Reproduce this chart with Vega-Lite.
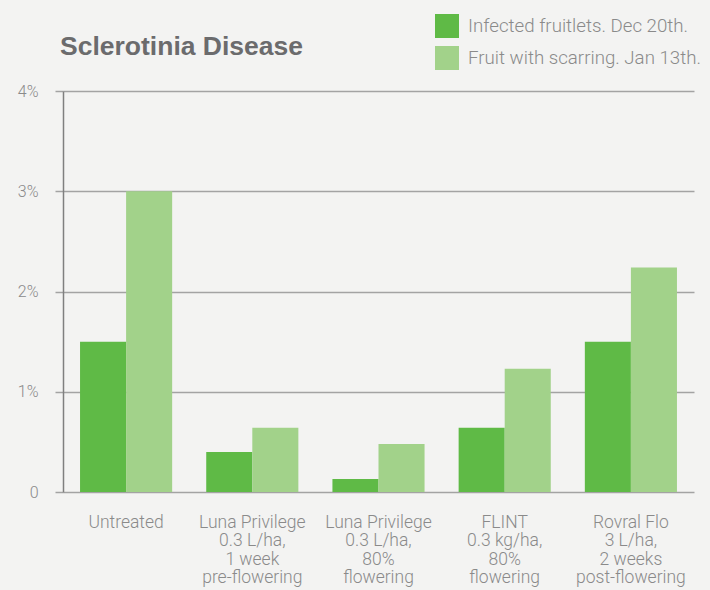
{
  "$schema": "https://vega.github.io/schema/vega-lite/v6.json",
  "width": 631,
  "height": 401,
  "autosize": {"type": "none"},
  "padding": {"left": 63, "top": 91, "right": 16, "bottom": 98},
  "background": "#f3f3f2",
  "title": {
    "text": "Sclerotinia Disease",
    "anchor": "start",
    "frame": "group",
    "dx": -3,
    "offset": 0,
    "dy": 46,
    "font": "Liberation Sans",
    "fontSize": 26.5,
    "fontWeight": "bold",
    "color": "#6b6b6d"
  },
  "data": {
    "values": [
      {"treatment": "Untreated", "series": "Infected fruitlets. Dec 20th.", "value": 1.5},
      {"treatment": "Untreated", "series": "Fruit with scarring. Jan 13th.", "value": 3.0},
      {"treatment": "Luna Privilege|0.3 L/ha,|1 week|pre-flowering", "series": "Infected fruitlets. Dec 20th.", "value": 0.4},
      {"treatment": "Luna Privilege|0.3 L/ha,|1 week|pre-flowering", "series": "Fruit with scarring. Jan 13th.", "value": 0.64},
      {"treatment": "Luna Privilege|0.3 L/ha,|80%|flowering", "series": "Infected fruitlets. Dec 20th.", "value": 0.13},
      {"treatment": "Luna Privilege|0.3 L/ha,|80%|flowering", "series": "Fruit with scarring. Jan 13th.", "value": 0.48},
      {"treatment": "FLINT|0.3 kg/ha,|80%|flowering", "series": "Infected fruitlets. Dec 20th.", "value": 0.64},
      {"treatment": "FLINT|0.3 kg/ha,|80%|flowering", "series": "Fruit with scarring. Jan 13th.", "value": 1.23},
      {"treatment": "Rovral Flo|3 L/ha,|2 weeks|post-flowering", "series": "Infected fruitlets. Dec 20th.", "value": 1.5},
      {"treatment": "Rovral Flo|3 L/ha,|2 weeks|post-flowering", "series": "Fruit with scarring. Jan 13th.", "value": 2.24}
    ]
  },
  "mark": {"type": "bar"},
  "encoding": {
    "x": {
      "field": "treatment",
      "type": "nominal",
      "sort": null,
      "scale": {"paddingInner": 0.27, "paddingOuter": 0.135},
      "axis": {
        "title": null,
        "domain": false,
        "ticks": false,
        "labelAngle": 0,
        "labelExpr": "split(datum.label, '|')",
        "labelFont": "Roboto",
        "labelFontWeight": 300,
        "labelFontSize": 17.5,
        "labelColor": "#8a8a8a",
        "labelBaseline": "top",
        "labelPadding": 21,
        "labelLineHeight": 18.5,
        "labelLimit": 200
      }
    },
    "xOffset": {
      "field": "series",
      "type": "nominal",
      "sort": ["Infected fruitlets. Dec 20th.", "Fruit with scarring. Jan 13th."],
      "scale": {"paddingInner": 0, "paddingOuter": 0}
    },
    "y": {
      "field": "value",
      "type": "quantitative",
      "scale": {"domain": [0, 4]},
      "axis": {
        "title": null,
        "values": [0, 1, 2, 3, 4],
        "labelExpr": "datum.value == 0 ? '0' : datum.value + '%'",
        "grid": true,
        "gridColor": "#a3a3a3",
        "gridWidth": 1.5,
        "domain": true,
        "domainColor": "#7f7f7f",
        "domainWidth": 1.5,
        "ticks": true,
        "tickSize": 8,
        "tickColor": "#a3a3a3",
        "tickWidth": 1.5,
        "labelFont": "Roboto",
        "labelFontWeight": 300,
        "labelFontSize": 16,
        "labelColor": "#8a8a8a",
        "labelPadding": 17
      }
    },
    "color": {
      "field": "series",
      "type": "nominal",
      "sort": ["Infected fruitlets. Dec 20th.", "Fruit with scarring. Jan 13th."],
      "scale": {"range": ["#5fba46", "#a2d28a"]},
      "legend": {
        "title": null,
        "orient": "none",
        "legendX": 372,
        "legendY": -77,
        "symbolType": "square",
        "symbolSize": 576,
        "symbolStrokeWidth": 0,
        "symbolOpacity": 1,
        "rowPadding": 8,
        "labelOffset": 9,
        "labelFont": "Roboto",
        "labelFontWeight": 300,
        "labelFontSize": 18.7,
        "labelColor": "#8a8a8a",
        "labelLimit": 300
      }
    }
  },
  "config": {
    "view": {"stroke": null}
  }
}
